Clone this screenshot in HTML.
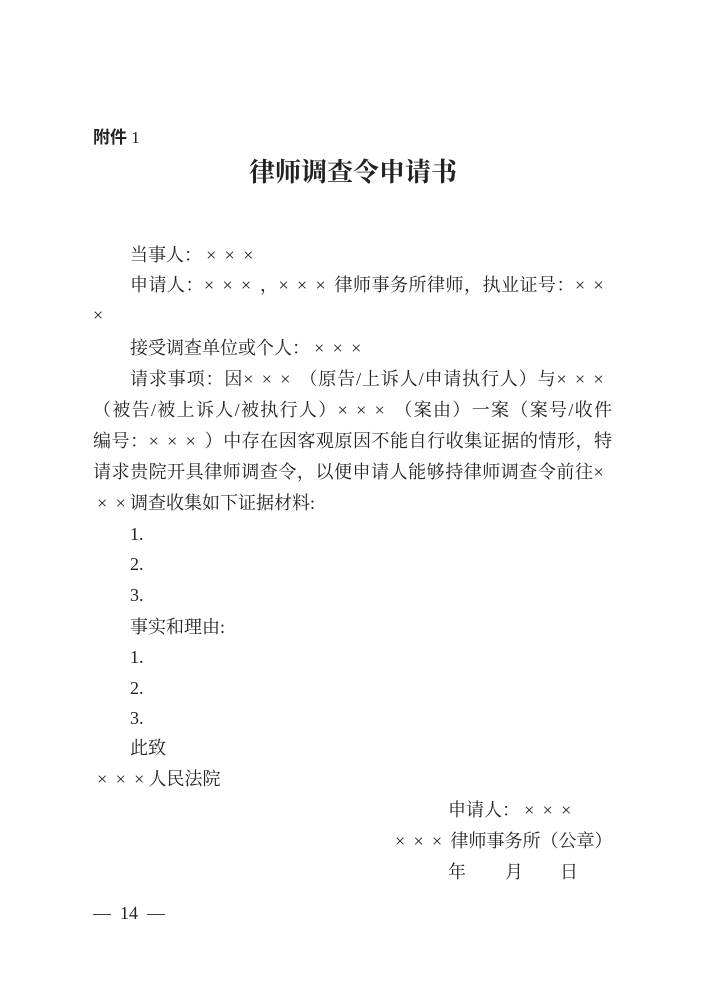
<!DOCTYPE html>
<html><head><meta charset="utf-8"><style>
body{margin:0;background:#fff;}
#p{position:relative;width:706px;height:1000px;overflow:hidden;background:#fff;color:#222;}
.l{position:absolute;left:93px;width:519px;height:24px;line-height:24px;font-size:18px;font-family:"Liberation Serif","Noto Serif CJK SC",serif;white-space:nowrap;}
.j{text-align:justify;text-align-last:justify;}
.i{padding-left:37px;width:482px;}
.x{display:inline-block;width:18.5px;text-align:center;font-size:18px;}
</style></head><body><div id="p">
<div class="l" style="top:126px;font-size:17px;"><b style="font-family:'Liberation Sans','Noto Sans CJK SC',sans-serif;">附件</b> 1</div>
<div class="l" style="top:156px;left:0;width:706px;text-align:center;font-size:26px;height:34px;line-height:34px;font-weight:bold;">律师调查令申请书</div>
<div class="l i" style="top:243px;">当事人：<span class="x">×</span><span class="x">×</span><span class="x">×</span></div>
<div class="l i j" style="top:273px;">申请人：<span class="x">×</span><span class="x">×</span><span class="x">×</span>，<span class="x">×</span><span class="x">×</span><span class="x">×</span>律师事务所律师，执业证号：<span class="x">×</span><span class="x">×</span></div>
<div class="l" style="top:303px;"><span class="x" style="text-align:left">×</span></div>
<div class="l i" style="top:336px;">接受调查单位或个人：<span class="x">×</span><span class="x">×</span><span class="x">×</span></div>
<div class="l i j" style="top:367px;">请求事项：因<span class="x">×</span><span class="x">×</span><span class="x">×</span>（原告/上诉人/申请执行人）与<span class="x">×</span><span class="x">×</span><span class="x">×</span></div>
<div class="l j" style="top:398px;">（被告/被上诉人/被执行人）<span class="x">×</span><span class="x">×</span><span class="x">×</span>（案由）一案（案号/收件</div>
<div class="l j" style="top:429px;">编号：<span class="x">×</span><span class="x">×</span><span class="x">×</span>）中存在因客观原因不能自行收集证据的情形，特</div>
<div class="l j" style="top:460px;">请求贵院开具律师调查令，以便申请人能够持律师调查令前往<span class="x">×</span></div>
<div class="l" style="top:491px;"><span class="x">×</span><span class="x">×</span>调查收集如下证据材料:</div>
<div class="l i" style="top:522px;">1.</div>
<div class="l i" style="top:552px;">2.</div>
<div class="l i" style="top:583px;">3.</div>
<div class="l i" style="top:615px;">事实和理由:</div>
<div class="l i" style="top:645px;">1.</div>
<div class="l i" style="top:676px;">2.</div>
<div class="l i" style="top:706px;">3.</div>
<div class="l i" style="top:736px;">此致</div>
<div class="l" style="top:767px;"><span class="x">×</span><span class="x">×</span><span class="x">×</span>人民法院</div>
<div class="l" style="top:798px;left:448px;width:auto;">申请人：<span class="x">×</span><span class="x">×</span><span class="x">×</span></div>
<div class="l j" style="top:829px;left:395px;width:216px;"><span class="x">×</span><span class="x">×</span><span class="x">×</span>律师事务所（公章）</div>
<div class="l" style="top:860px;left:448px;width:auto;">年</div>
<div class="l" style="top:860px;left:505px;width:auto;">月</div>
<div class="l" style="top:860px;left:560px;width:auto;">日</div>
<div class="l" style="top:901px;">—&nbsp;&nbsp;14&nbsp;&nbsp;—</div>
</div></body></html>
